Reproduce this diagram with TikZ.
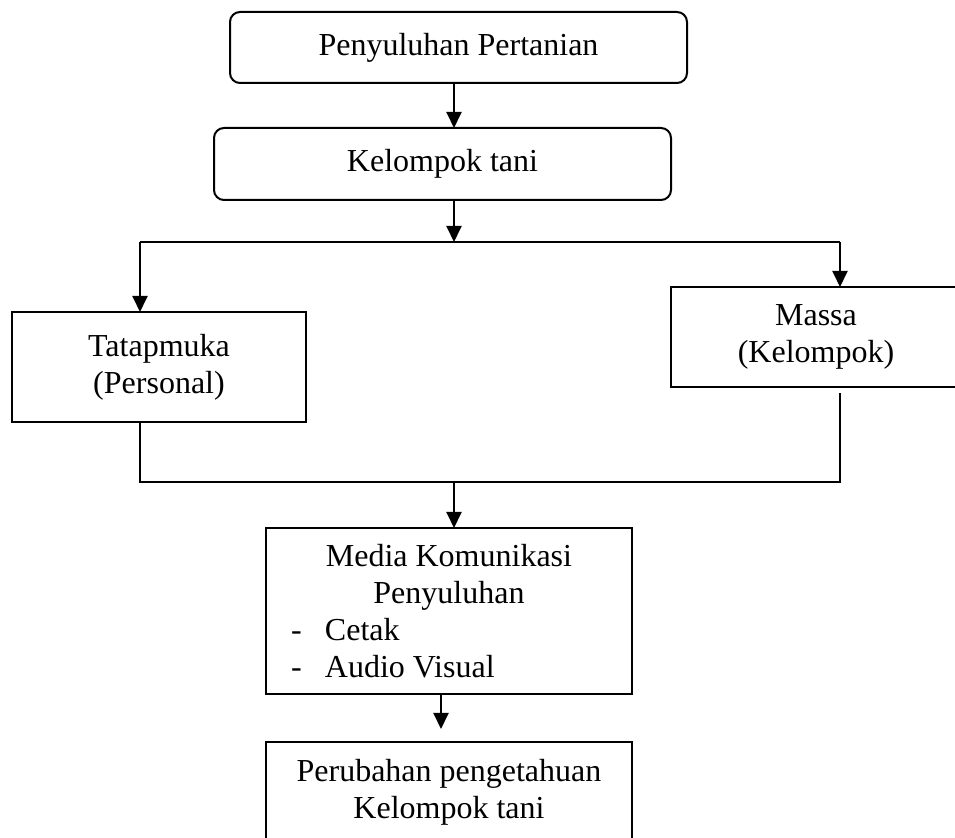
\documentclass[tikz,border=0pt]{standalone}
\usepackage{fontspec}
\setmainfont{Liberation Serif}
\usetikzlibrary{arrows.meta}
\tikzstyle{box} = [draw,line width=1pt,inner sep=0pt,outer sep=0pt,align=center,font=\fontsize{16}{18.5}\selectfont]
\tikzstyle{rbox} = [box,rounded corners=5pt]
\tikzstyle{arr} = [line width=1pt,-{Triangle[length=8pt,width=7.5pt]}]
\tikzstyle{link} = [line width=1pt]
\newcommand\mditem[1]{\makebox[158pt][l]{\makebox[17pt][l]{-}#1}}

\begin{document}
\begin{tikzpicture}[x=0.5pt,y=-0.5pt]

\useasboundingbox (0,0) rectangle (955,838);
\clip (0,0) rectangle (955,838);

\node[rbox,minimum width=228.5pt,minimum height=35.5pt] (pp) at (458.5,47.5) {Penyuluhan Pertanian};
\node[rbox,minimum width=228.5pt,minimum height=36pt] (kt) at (442.5,164) {Kelompok tani};
\node[box,minimum width=147pt,minimum height=55pt] (tm) at (159,367) {Tatapmuka\\(Personal)};
\node[box,minimum width=145pt,minimum height=50pt] (ms) at (816,337) {Massa\\(Kelompok)};
\node[box,minimum width=183pt,minimum height=83pt] (mk) at (449,611) {Media Komunikasi\\Penyuluhan\\\mditem{Cetak}\\\mditem{Audio Visual}};
\node[box,minimum width=183pt,minimum height=50pt] (pk) at (449,792) {Perubahan pengetahuan\\Kelompok tani};

\coordinate (split) at (454,242);
\coordinate (sl) at (140,242);
\coordinate (sr) at (840,242);
\coordinate (join) at (454,482);
\coordinate (jl) at (140,482);
\coordinate (jr) at (840,482);

\draw[arr] (454,0 |- pp.south) -- (454,0 |- kt.north);
\draw[arr] (split |- kt.south) -- (split);
\draw[link] (sl) -- (sr);
\draw[arr] (sl) -- (sl |- tm.north);
\draw[arr] (sr) -- (sr |- ms.north);
\draw[link] (sl |- tm.south) -- (jl) -- (jr) -- ([yshift=-3pt]sr |- ms.south);
\draw[arr] (join) -- (join |- mk.north);
\draw[arr,shorten >=6.5pt] (441,0 |- mk.south) -- (441,0 |- pk.north);

\end{tikzpicture}
\end{document}
